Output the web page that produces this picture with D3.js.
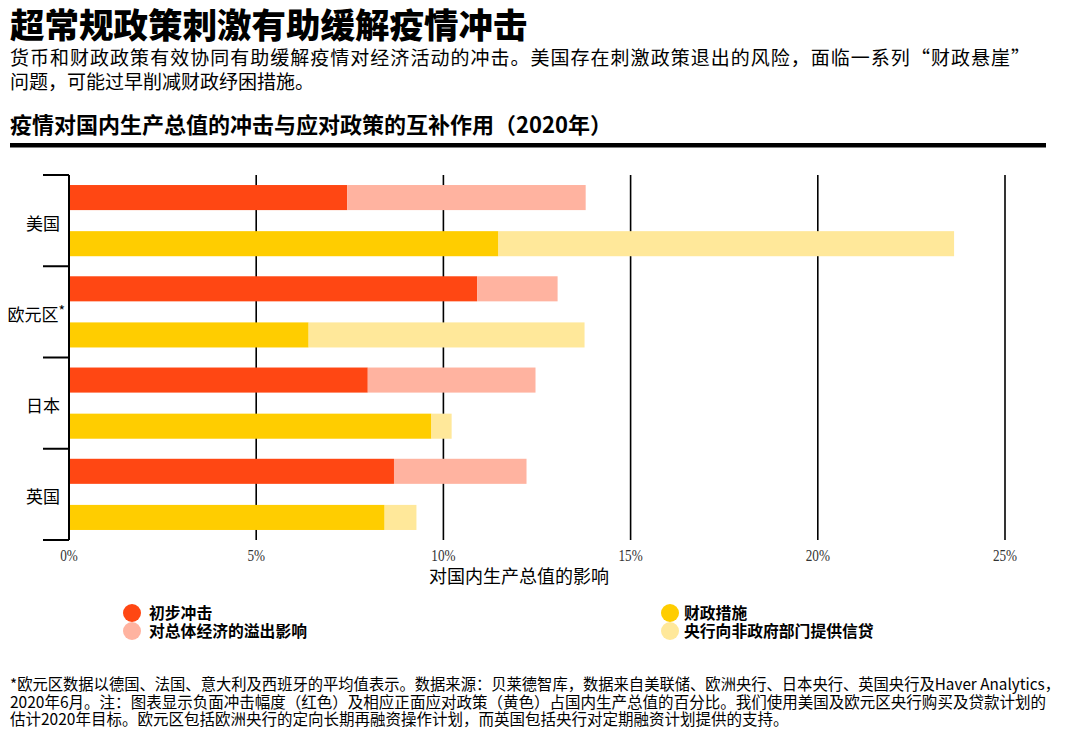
<!DOCTYPE html>
<html><head><meta charset="utf-8">
<script src="https://cdn.jsdelivr.net/npm/d3@7"></script>
<style>
body{margin:0;background:#fff;}
</style></head>
<body>
<svg id="c" width="1072" height="732" font-family="'Noto Sans CJK SC','Noto Sans',sans-serif"></svg>
<script>
const countries = ["美国","欧元区*","日本","英国"];
const initialShock = [7.43, 10.9, 7.98, 8.68];
const spillover = [6.37, 2.15, 4.48, 3.54];
const fiscal = [11.47, 6.4, 9.68, 8.43];
const centralBank = [12.17, 7.37, 0.54, 0.85];
const xTicks = [0,5,10,15,20,25];
const legendLabels = ["初步冲击","对总体经济的溢出影响","财政措施","央行向非政府部门提供信贷"];
const colors = {shock:"#FF4713", spill:"#FFB3A0", fiscal:"#FFCD00", cb:"#FFE89A"};

const svg = d3.select("#c");

// Titles
svg.append("text").attr("x",10).attr("y",38).attr("font-size",34.5).attr("font-weight",900)
  .attr("fill","#000").text("超常规政策刺激有助缓解疫情冲击");
svg.append("text").attr("x",10).attr("y",65).attr("font-size",19).attr("fill","#000")
  .attr("textLength",1020).attr("lengthAdjust","spacing")
  .text("货币和财政政策有效协同有助缓解疫情对经济活动的冲击。美国存在刺激政策退出的风险，面临一系列“财政悬崖”");
svg.append("text").attr("x",10).attr("y",89).attr("font-size",19).attr("fill","#000")
  .text("问题，可能过早削减财政纾困措施。");
svg.append("text").attr("x",10).attr("y",133).attr("font-size",22).attr("font-weight",700)
  .attr("fill","#000").text("疫情对国内生产总值的冲击与应对政策的互补作用（2020年）");
svg.append("rect").attr("x",10).attr("y",143).attr("width",1036).attr("height",4.5).attr("fill","#000");

// Scales
const x = d3.scaleLinear().domain([0,25]).range([69,1005]);
const y = d3.scaleBand().domain(countries).range([175,540]);
const yi = d3.scaleBand().domain(["shock","policy"]).range([0,y.bandwidth()])
  .paddingInner(21/46).paddingOuter(10/46);

// gridlines
svg.append("g").selectAll("line").data(xTicks.slice(1)).join("line")
  .attr("x1",d=>x(d)).attr("x2",d=>x(d)).attr("y1",175).attr("y2",540)
  .attr("stroke","#000").attr("stroke-width",1.6);

// bars
const rows = countries.map((c,i)=>({c,i}));
const g = svg.append("g");
rows.forEach(({c,i})=>{
  const segs = [
    {row:"shock", x0:0, x1:initialShock[i], col:colors.shock},
    {row:"shock", x0:initialShock[i], x1:initialShock[i]+spillover[i], col:colors.spill},
    {row:"policy", x0:0, x1:fiscal[i], col:colors.fiscal},
    {row:"policy", x0:fiscal[i], x1:fiscal[i]+centralBank[i], col:colors.cb}
  ];
  g.selectAll(null).data(segs).join("rect")
    .attr("x",d=>x(d.x0)).attr("width",d=>x(d.x1)-x(d.x0))
    .attr("y",d=>y(c)+yi(d.row)).attr("height",yi.bandwidth())
    .attr("fill",d=>d.col);
});

// left axis
svg.append("line").attr("x1",69).attr("x2",69).attr("y1",175).attr("y2",540)
  .attr("stroke","#000").attr("stroke-width",2);
const bounds = countries.map(c=>y(c)).concat([540]);
svg.append("g").selectAll("line").data(bounds).join("line")
  .attr("x1",43).attr("x2",69).attr("y1",d=>d).attr("y2",d=>d)
  .attr("stroke","#000").attr("stroke-width",2);

// y labels
const yl = svg.append("g").selectAll("text").data(countries).join("text")
  .attr("x",60).attr("y",d=>y(d)+y.bandwidth()/2+9)
  .attr("text-anchor","end").attr("font-size",17).attr("fill","#000");
yl.each(function(d){
  const t = d3.select(this);
  if(d.endsWith("*")){
    t.attr("x",65);
    t.append("tspan").text(d.slice(0,-1));
    t.append("tspan").attr("dy",-5).attr("font-size",14).text("*");
  } else t.text(d);
});

// x tick labels
svg.append("g").selectAll("text").data(xTicks).join("text")
  .attr("x",d=>x(d)).attr("y",561).attr("text-anchor","middle")
  .style("font-family","'Liberation Serif','DejaVu Serif',serif").attr("font-size",16.5)
  .attr("fill","#333").attr("transform",d=>`translate(${x(d)},0) scale(0.8,1) translate(${-x(d)},0)`)
  .text(d=>d+"%");
svg.append("text").attr("x",519).attr("y",583).attr("text-anchor","middle")
  .attr("font-size",18).attr("fill","#000").text("对国内生产总值的影响");

// legend
const leg = [
  {cx:132, tx:149, cy:613, col:colors.shock, t:legendLabels[0]},
  {cx:132, tx:149, cy:631, col:colors.spill, t:legendLabels[1]},
  {cx:670, tx:684, cy:613, col:colors.fiscal, t:legendLabels[2]},
  {cx:670, tx:684, cy:631, col:colors.cb, t:legendLabels[3]}
];
const lg = svg.append("g").selectAll("g").data(leg).join("g");
lg.append("circle").attr("cx",d=>d.cx).attr("cy",d=>d.cy).attr("r",9).attr("fill",d=>d.col);
lg.append("text").attr("x",d=>d.tx).attr("y",d=>d.cy+5.5).attr("font-size",15.8)
  .attr("font-weight",700).attr("fill","#000").text(d=>d.t);

// footnote
const foot = [
  {t:"*欧元区数据以德国、法国、意大利及西班牙的平均值表示。数据来源：贝莱德智库，数据来自美联储、欧洲央行、日本央行、英国央行及Haver Analytics，", w:1050},
  {t:"2020年6月。注：图表显示负面冲击幅度（红色）及相应正面应对政策（黄色）占国内生产总值的百分比。我们使用美国及欧元区央行购买及贷款计划的", w:1036},
  {t:"估计2020年目标。欧元区包括欧洲央行的定向长期再融资操作计划，而英国包括央行对定期融资计划提供的支持。", w:null}
];
foot.forEach((f,i)=>{
  const t = svg.append("text").attr("x",10).attr("y",690+i*17.5).attr("font-size",15.5)
    .attr("fill","#000").text(f.t);
  if(f.w) t.attr("textLength",f.w).attr("lengthAdjust","spacingAndGlyphs");
});
</script>
</body></html>
